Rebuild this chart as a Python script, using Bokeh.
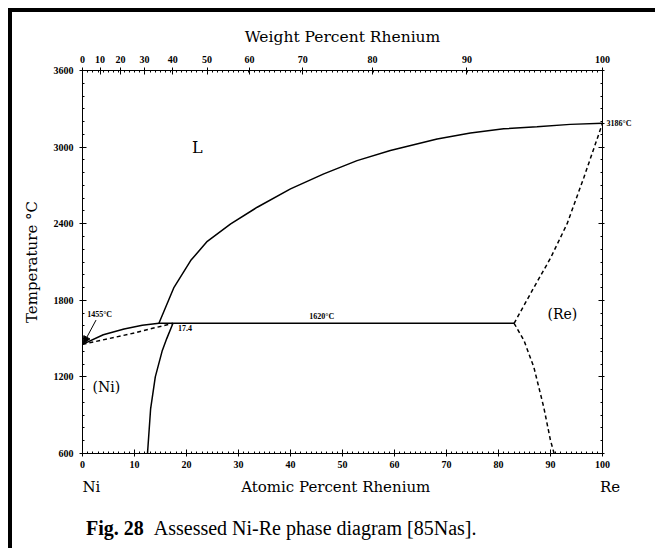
from bokeh.plotting import figure
from bokeh.models import Range1d, LinearAxis, FixedTicker, Label, Arrow, NormalHead, Div
from bokeh.layouts import column
from bokeh.embed import file_html
from bokeh.resources import INLINE

# ---------------- data (atomic % Re, temperature degC) ----------------
liq_ni_x = [0, 4, 8, 11.5, 14.7]
liq_ni_t = [1455, 1530, 1575, 1605, 1620]

sol_ni_x = [0, 9, 17.4]
sol_ni_t = [1455, 1535, 1620]

solvus_ni_x = [17.4, 16.2, 15.3, 14.0, 13.1, 12.5]
solvus_ni_t = [1620, 1500, 1400, 1200, 950, 600]

liq_x = [14.7, 17.6, 20.8, 24.0, 28.5, 33.6, 40.0, 46.4, 52.8, 59.2, 68.2, 74.6, 81.0, 87.4, 93.8, 100]
liq_t = [1620, 1902, 2111, 2262, 2399, 2529, 2673, 2790, 2894, 2973, 3064, 3111, 3143, 3160, 3178, 3186]

peri_x = [14.7, 83]
peri_t = [1620, 1620]

sol_re_x = [83, 86.8, 90, 93.2, 96.4, 100]
sol_re_t = [1620, 1900, 2130, 2400, 2760, 3186]

solvus_re_x = [83, 84.9, 86.8, 88.7, 90.0, 90.7]
solvus_re_t = [1620, 1485, 1276, 963, 702, 600]

at_ticks = list(range(0, 101, 10))
t_ticks = list(range(600, 3601, 600))
wt_ticks = [0, 10, 20, 30, 40, 50, 60, 70, 80, 90, 100]
re_melt = 3186

M_NI, M_RE = 58.69, 186.21


def wt_to_at(w):
    if w >= 100:
        return 100.0
    a = w / M_RE
    b = (100 - w) / M_NI
    return round(100 * a / (a + b), 4)


PAD = 12              # page border (8px gap + 4px line)
W, H = 655 - PAD, 493
FL, FT, FB = 82 - PAD, 70 - PAD, 453 - PAD   # frame edges inside the figure

p = figure(width=W, height=H, x_range=Range1d(0, 100), y_range=Range1d(600, 3600),
           output_backend="svg", toolbar_location=None,
           min_border_left=FL, min_border_right=W - FL - 520, min_border_top=FT, min_border_bottom=H - FB)
p.outline_line_color = None
p.grid.visible = False
p.background_fill_color = "white"
p.border_fill_color = "white"

tick_font = "Liberation Serif"
serif = "DejaVu Serif"


def style_axis(ax, standoff=5, size="10px"):
    ax.axis_line_color = "black"
    ax.axis_line_width = 1
    ax.major_tick_in = 4
    ax.major_tick_out = 3
    ax.minor_tick_in = 2
    ax.minor_tick_out = 0
    ax.major_tick_line_color = "black"
    ax.minor_tick_line_color = "black"
    ax.major_label_text_font = tick_font
    ax.major_label_text_font_style = "bold"
    ax.major_label_text_font_size = size
    ax.major_label_text_color = "black"
    ax.major_label_standoff = standoff
    ax.axis_label_text_font = serif
    ax.axis_label_text_font_style = "normal"
    ax.axis_label_text_font_size = "15px"
    ax.axis_label_text_color = "black"


# bottom: atomic percent
p.xaxis.ticker = FixedTicker(ticks=at_ticks, minor_ticks=list(range(0, 101)))
style_axis(p.xaxis[0], 4)

# left: temperature
p.yaxis.ticker = FixedTicker(ticks=t_ticks, minor_ticks=list(range(600, 3601, 100)))
style_axis(p.yaxis[0], 6)
p.yaxis.axis_label = "Temperature °C"
p.yaxis.axis_label_standoff = 10

# top: weight percent
wt_pos = [wt_to_at(w) for w in wt_ticks]
top = LinearAxis(ticker=FixedTicker(ticks=wt_pos, minor_ticks=list(range(0, 101))),
                 major_label_overrides={pos: str(w) for pos, w in zip(wt_pos, wt_ticks)},
                 axis_label="Weight Percent Rhenium")
style_axis(top, 5)
top.axis_label_text_font_size = "15.5px"
top.axis_label_standoff = 7
p.add_layout(top, "above")

# right: frame side, only the Re melting point is written
right_ticks = t_ticks + [re_melt]
right = LinearAxis(ticker=FixedTicker(ticks=right_ticks, minor_ticks=list(range(600, 3601, 100))),
                   major_label_overrides={t: ("3186°C" if t == re_melt else "") for t in right_ticks})
style_axis(right, 2, size="8px")
right.major_tick_out = 2
p.add_layout(right, "right")

# second row under the bottom axis: end members and axis title
names_pos = [1.7, 48.7, 100]
names = ["Ni", "Atomic Percent Rhenium", "\u2003Re"]
names_axis = LinearAxis(ticker=FixedTicker(ticks=names_pos, minor_ticks=[]),
                        major_label_overrides={x: t for x, t in zip(names_pos, names)})
names_axis.axis_line_color = None
names_axis.major_tick_line_color = None
names_axis.minor_tick_line_color = None
names_axis.major_label_text_font = serif
names_axis.major_label_text_font_size = "15px"
names_axis.major_label_text_color = "black"
names_axis.major_label_standoff = 1
p.add_layout(names_axis, "below")

# ---------------- phase boundaries ----------------
lw = 1.5
p.line(liq_ni_x, liq_ni_t, line_color="black", line_width=lw)
p.line(sol_ni_x, sol_ni_t, line_color="black", line_width=lw, line_dash="4 3")
p.line(solvus_ni_x, solvus_ni_t, line_color="black", line_width=lw)
p.line(liq_x, liq_t, line_color="black", line_width=lw)
p.line(peri_x, peri_t, line_color="black", line_width=lw)
p.line(sol_re_x, sol_re_t, line_color="black", line_width=lw, line_dash="4 3")
p.line(solvus_re_x, solvus_re_t, line_color="black", line_width=lw, line_dash="4 3")

p.add_layout(Arrow(end=NormalHead(size=7, fill_color="black", line_color="black"),
                   x_start=2.6, y_start=1645, x_end=0.2, y_end=1462,
                   line_color="black", line_width=1))


def lab(x, y, text, size, font=serif, style="normal"):
    p.add_layout(Label(x=x, y=y, text=text, text_font=font, text_font_size=size,
                       text_font_style=style, text_align="center", text_baseline="middle",
                       text_color="black"))


lab(3.3, 1690, "1455°C", "8px", font=tick_font, style="bold")
lab(19.7, 1582, "17.4", "8px", font=tick_font, style="bold")
lab(46.0, 1675, "1620°C", "8px", font=tick_font, style="bold")
lab(22.1, 3000, "L", "16px")
lab(4.6, 1117, "(Ni)", "14px")
lab(92.3, 1696, "(Re)", "14px")

caption = Div(text='<span style="font-weight:bold">Fig. 28</span>&nbsp;&nbsp;Assessed Ni-Re phase diagram [85Nas].',
              width=W, height=548 - PAD - H,
              styles={"font-family": "'Liberation Serif', serif", "font-size": "20px", "color": "black",
                      "padding-left": "%dpx" % (81 - PAD), "padding-top": "4px", "white-space": "nowrap"})

page = column(p, caption, spacing=0,
              styles={"margin-left": "8px", "margin-top": "8px",
                      "border-left": "4px solid black", "border-top": "4px solid black",
                      "background-color": "white"})

open("out.html", "w").write(file_html(page, INLINE))
